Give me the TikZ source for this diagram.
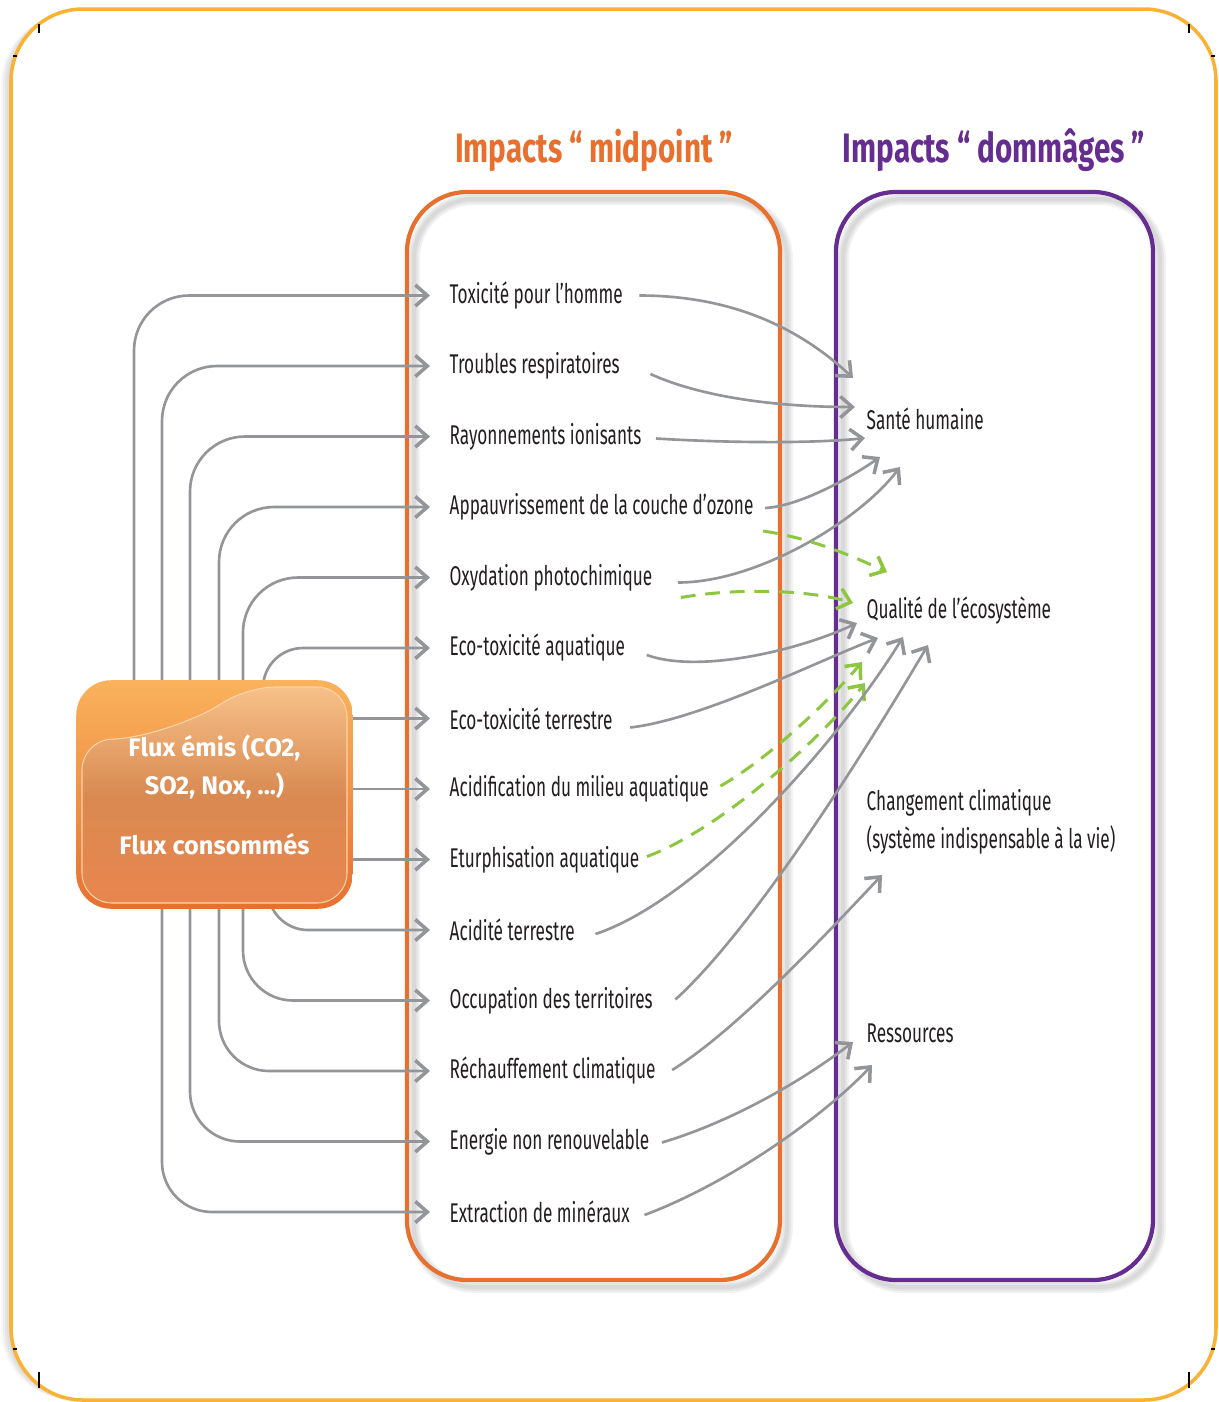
\documentclass[tikz,border=0pt]{standalone}
\usepackage{fontspec}
\setmainfont{Fira Sans}
\newfontfamily\narrowfont{Fira Sans}[FakeStretch=0.635]
\newfontfamily\titlefont{Fira Sans}[FakeStretch=0.72]
\usepackage{xcolor}
\usepackage{tikz}
\usetikzlibrary{arrows.meta}

\definecolor{cadre}{HTML}{F9B233}
\definecolor{midorange}{HTML}{E8702F}
\definecolor{dmgviolet}{HTML}{662D91}
\definecolor{fleche}{HTML}{939598}
\definecolor{vert}{HTML}{8DC63F}
\definecolor{texte}{HTML}{231F20}
\definecolor{fluxbord}{HTML}{FAB25C}
\definecolor{fluxhaut}{HTML}{F6C189}
\definecolor{fluxmilieu}{HTML}{D98A51}
\definecolor{fluxbas}{HTML}{E9854F}

\begin{document}
\begin{tikzpicture}
                [x=0.01cm, y=-0.01cm,
                item/.style = {anchor=west, inner sep=0pt, text=texte,
                            font=\narrowfont\fontsize{7.7}{10.8}\selectfont},
                dmg/.style = {item, align=left},
                titre/.style = {inner sep=0pt, font=\titlefont\bfseries\fontsize{11.7}{14}\selectfont},
                lien/.style = {draw=fleche, line width=0.75pt,
                            -{Straight Barb[length=1.2mm,width=2.1mm,line width=1pt]}},
                lienvert/.style = {lien, draw=vert, line width=0.85pt, dash pattern=on 4.2pt off 2.8pt},
                ombre/.style = {black, opacity=0.05, rounded corners=0.6cm}]
                \useasboundingbox (0,0) rectangle (1219,1402);
                % Cadre
                \foreach \d in {2,4,...,10}
                    \fill[black, opacity=0.035, rounded corners=0.72cm] (11-\d,9+0.4*\d) rectangle (1216-\d,1400);
                \draw[cadre, line width=1pt, fill=white, rounded corners=0.72cm] (11,9) rectangle (1216,1400);
                \foreach \xx/\ya/\yb in {39/24/33, 1189/24/33, 39/1372/1388, 1189/1372/1388}
                    \draw[black, line width=0.6pt] (\xx,\ya) -- (\xx,\yb);
                \foreach \xa/\yy in {13/56, 1211/56, 13/1349, 1211/1349}
                    \draw[black, line width=0.4pt] (\xa,\yy) -- (\xa+4,\yy);
                % Titres
                \node[titre, text=midorange] (tmid) at (594,150) {Impacts\,“ midpoint ”};
                \node[titre, text=dmgviolet] (tdom) at (994,150) {Impacts\,“ dommâges ”};
                % Ombres des colonnes
                \foreach \w in {1.2mm,0.8mm,0.4mm} {
                    \draw[ombre, line width=\w] (414,199) rectangle (787,1287);
                    \draw[ombre, line width=\w] (843,199) rectangle (1160,1287);
                }
                \draw[midorange, line width=1.2pt, rounded corners=0.6cm] (407,192) rectangle (780,1280);
                \draw[dmgviolet, line width=1.2pt, rounded corners=0.6cm] (836,192) rectangle (1153,1280);
                % Impacts midpoint
                \foreach \txt [count=\i] in {Toxicité pour l’homme, Troubles respiratoires,
                    Rayonnements ionisants, Appauvrissement de la couche d’ozone,
                    Oxydation photochimique, Eco-toxicité aquatique, Eco-toxicité terrestre,
                    Acidification du milieu aquatique, Eturphisation aquatique, Acidité terrestre,
                    Occupation des territoires, Réchauffement climatique,
                    Energie non renouvelable, Extraction de minéraux}
                    \node[item] (m\i) at (449,225+70.5*\i) {\txt};
                % Impacts dommages
                \node[dmg] (d1) at (866,419) {Santé humaine};
                \node[dmg] (d2) at (866,611) {Qualité de l’écosystème};
                \node[dmg] (d3) at (866,822) {Changement climatique\\(système indispensable à la vie)};
                \node[dmg] (d4) at (866,1033) {Ressources};
                % Flux
                \node[minimum width=2.75cm, minimum height=2.27cm, inner sep=0pt] (flux) at (214.5,794.5) {};
                \foreach \i/\xx in {1/134, 2/162, 3/190, 4/219, 5/243}
                    \draw[lien, rounded corners=0.55cm, shorten >=1.9mm] (\xx,0 |- flux.north) |- (m\i.west);
                \draw[lien, rounded corners=0.4cm, shorten >=1.9mm] (263,0 |- flux.north) ++(0,40) |- (m6.west);
                \foreach \i in {7,8,9}
                    \draw[lien, shorten >=1.9mm] (flux.east |- m\i.west) -- (m\i.west);
                \draw[lien, rounded corners=0.4cm, shorten >=1.9mm] (268,0 |- flux.south) ++(0,-40) |- (m10.west);
                \foreach \i/\xx in {11/243, 12/219, 13/190, 14/162}
                    \draw[lien, rounded corners=0.5cm, shorten >=1.9mm] (\xx,0 |- flux.south) |- (m\i.west);
                \shade[top color=fluxbord, bottom color=midorange, rounded corners=0.35cm]
                    (flux.south west) rectangle (flux.north east);
                \shade[top color=fluxhaut, bottom color=fluxbas, middle color=fluxmilieu,
                    draw=fluxhaut!70!white, line width=0.3pt, rounded corners=0.3cm]
                    (82,740) .. controls (150,738) and (205,715) .. (245,687) -- (347,687) -- (347,903) -- (82,903) -- cycle;
                \node[text=white, align=center, font=\bfseries\fontsize{7.2}{10.8}\selectfont] (fluxtxt) at (flux)
                    {Flux émis (CO2,\\SO2, Nox, ...)\\[2.2mm]Flux consommés};
                % Liens vers la santé humaine
                \draw[lien] ([shift={(16,0)}]m1.east) .. controls +(99,0) and +(-48,-45) .. ([shift={(-13,-41)}]d1.west);
                \draw[lien] ([shift={(30,8)}]m2.east) .. controls +(53,24) and +(-75,0) .. ([shift={(-11,-12)}]d1.west);
                \draw[lien] ([shift={(14,2)}]m3.east) .. controls +(82,5) and +(-45,5) .. ([shift={(-1,19)}]d1.west);
                \draw[lien] ([shift={(11,1)}]m4.east) .. controls +(35,-2) and +(-30,21) .. ([shift={(14,38)}]d1.west);
                \draw[lien] ([shift={(25,5)}]m5.east) .. controls +(80,0) and +(-40,53) .. ([shift={(34,48)}]d1.west);
                % Liens vers la qualite de l'ecosysteme
                \draw[lienvert] ([shift={(9,24)}]m4.east) .. controls +(47,7) and +(-37,-17) .. ([shift={(21,-39)}]d2.west);
                \draw[lienvert] ([shift={(28,20)}]m5.east) .. controls +(57,-10) and +(-43,-13) .. ([shift={(-13,-8)}]d2.west);
                \draw[lien] ([shift={(21,7)}]m6.east) .. controls +(53,19) and +(-57,27) .. ([shift={(-9,12)}]d2.west);
                \draw[lien] ([shift={(17,9)}]m7.east) .. controls +(71,-8) and +(-58,22) .. ([shift={(12,27)}]d2.west);
                \draw[lienvert] ([shift={(11,-3)}]m8.east) .. controls +(48,-27) and +(-32,38) .. ([shift={(-4,51)}]d2.west);
                \draw[lienvert] ([shift={(7,-3)}]m9.east) .. controls +(73,-27) and +(-45,57) .. ([shift={(-1,72)}]d2.west);
                \draw[lien] ([shift={(20,4)}]m10.east) .. controls +(105,-35) and +(-63,103) .. ([shift={(37,26)}]d2.west);
                \draw[lien] ([shift={(22,-1)}]m11.east) .. controls +(77,-70) and +(-68,115) .. ([shift={(62,34)}]d2.west);
                % Changement climatique et ressources
                \draw[lien] ([shift={(16,-1)}]m12.east) .. controls +(65,-40) and +(-52,55) .. ([shift={(16,53)}]d3.west);
                \draw[lien] ([shift={(12,1)}]m13.east) .. controls +(77,-23) and +(-43,33) .. ([shift={(-13,9)}]d4.west);
                \draw[lien] ([shift={(14,3)}]m14.east) .. controls +(93,-35) and +(-42,45) .. ([shift={(6,32)}]d4.west);
\end{tikzpicture}
\end{document}
